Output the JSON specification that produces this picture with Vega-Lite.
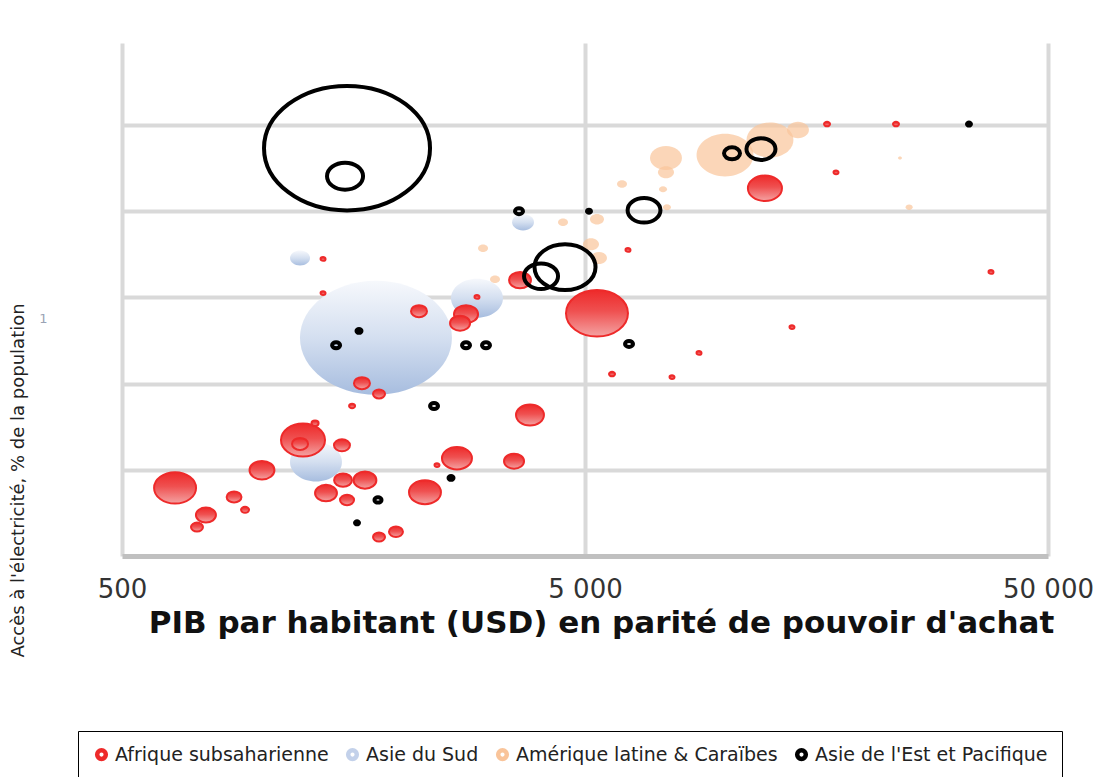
{
  "$schema": "https://vega.github.io/schema/vega-lite/v6.json",
  "autosize": "none",
  "width": 926,
  "height": 513,
  "padding": {"left": 122, "top": 43, "right": 54, "bottom": 221},
  "background": "white",
  "config": {"view": {"stroke": null}},
  "data": {"values": [
    {"region": "Asie du Sud", "pib": 1768, "acces": 50.6, "pop": 1155},
    {"region": "Asie du Sud", "pib": 2922, "acces": 59.8, "pop": 135},
    {"region": "Asie du Sud", "pib": 1312, "acces": 21.8, "pop": 135},
    {"region": "Asie du Sud", "pib": 1212, "acces": 69.1, "pop": 20},
    {"region": "Asie du Sud", "pib": 3674, "acces": 77.4, "pop": 24},

    {"region": "Amérique latine & Caraïbes", "pib": 10032, "acces": 93.0, "pop": 162},
    {"region": "Amérique latine & Caraïbes", "pib": 12544, "acces": 96.5, "pop": 110},
    {"region": "Amérique latine & Caraïbes", "pib": 14419, "acces": 98.8, "pop": 24},
    {"region": "Amérique latine & Caraïbes", "pib": 7480, "acces": 92.3, "pop": 51},
    {"region": "Amérique latine & Caraïbes", "pib": 7480, "acces": 89.0, "pop": 12.8},
    {"region": "Amérique latine & Caraïbes", "pib": 6010, "acces": 86.3, "pop": 5},
    {"region": "Amérique latine & Caraïbes", "pib": 7370, "acces": 85.1, "pop": 3.2},
    {"region": "Amérique latine & Caraïbes", "pib": 7516, "acces": 80.9, "pop": 3.2},
    {"region": "Amérique latine & Caraïbes", "pib": 5307, "acces": 78.1, "pop": 9.8},
    {"region": "Amérique latine & Caraïbes", "pib": 4482, "acces": 77.4, "pop": 5},
    {"region": "Amérique latine & Caraïbes", "pib": 5151, "acces": 72.3, "pop": 12.8},
    {"region": "Amérique latine & Caraïbes", "pib": 5360, "acces": 69.1, "pop": 12.8},
    {"region": "Amérique latine & Caraïbes", "pib": 3011, "acces": 71.4, "pop": 5},
    {"region": "Amérique latine & Caraïbes", "pib": 3196, "acces": 64.2, "pop": 5},
    {"region": "Amérique latine & Caraïbes", "pib": 25063, "acces": 80.9, "pop": 2.5},
    {"region": "Amérique latine & Caraïbes", "pib": 23947, "acces": 92.3, "pop": 0.8},

    {"region": "Afrique subsaharienne", "pib": 5307, "acces": 56.3, "pop": 192},
    {"region": "Afrique subsaharienne", "pib": 651, "acces": 15.8, "pop": 88},
    {"region": "Afrique subsaharienne", "pib": 1230, "acces": 26.9, "pop": 97},
    {"region": "Afrique subsaharienne", "pib": 1212, "acces": 26.0, "pop": 12.8},
    {"region": "Afrique subsaharienne", "pib": 1003, "acces": 19.9, "pop": 31},
    {"region": "Afrique subsaharienne", "pib": 1493, "acces": 25.7, "pop": 12.8},
    {"region": "Afrique subsaharienne", "pib": 1306, "acces": 30.8, "pop": 2.5},
    {"region": "Afrique subsaharienne", "pib": 873, "acces": 13.7, "pop": 11},
    {"region": "Afrique subsaharienne", "pib": 922, "acces": 10.7, "pop": 3.2},
    {"region": "Afrique subsaharienne", "pib": 759, "acces": 9.5, "pop": 20},
    {"region": "Afrique subsaharienne", "pib": 726, "acces": 6.7, "pop": 7.2},
    {"region": "Afrique subsaharienne", "pib": 1379, "acces": 14.6, "pop": 24},
    {"region": "Afrique subsaharienne", "pib": 1531, "acces": 13.0, "pop": 9.8},
    {"region": "Afrique subsaharienne", "pib": 1501, "acces": 17.6, "pop": 16},
    {"region": "Afrique subsaharienne", "pib": 1674, "acces": 17.6, "pop": 26},
    {"region": "Afrique subsaharienne", "pib": 1953, "acces": 5.6, "pop": 9.8},
    {"region": "Afrique subsaharienne", "pib": 1795, "acces": 4.4, "pop": 7.2},
    {"region": "Afrique subsaharienne", "pib": 2256, "acces": 14.8, "pop": 51},
    {"region": "Afrique subsaharienne", "pib": 2645, "acces": 22.7, "pop": 45},
    {"region": "Afrique subsaharienne", "pib": 2395, "acces": 21.1, "pop": 1.25},
    {"region": "Afrique subsaharienne", "pib": 3513, "acces": 22.0, "pop": 20},
    {"region": "Afrique subsaharienne", "pib": 3803, "acces": 32.7, "pop": 39},
    {"region": "Afrique subsaharienne", "pib": 2190, "acces": 56.8, "pop": 12.8},
    {"region": "Afrique subsaharienne", "pib": 2767, "acces": 56.1, "pop": 29},
    {"region": "Afrique subsaharienne", "pib": 2686, "acces": 54.0, "pop": 20},
    {"region": "Afrique subsaharienne", "pib": 2922, "acces": 60.1, "pop": 1.25},
    {"region": "Afrique subsaharienne", "pib": 3619, "acces": 64.0, "pop": 24},
    {"region": "Afrique subsaharienne", "pib": 1359, "acces": 68.9, "pop": 1.25},
    {"region": "Afrique subsaharienne", "pib": 1359, "acces": 61.0, "pop": 1.25},
    {"region": "Afrique subsaharienne", "pib": 6192, "acces": 71.0, "pop": 1.25},
    {"region": "Afrique subsaharienne", "pib": 5719, "acces": 42.2, "pop": 1.8},
    {"region": "Afrique subsaharienne", "pib": 7707, "acces": 41.5, "pop": 1.25},
    {"region": "Afrique subsaharienne", "pib": 8815, "acces": 47.1, "pop": 1.25},
    {"region": "Afrique subsaharienne", "pib": 13996, "acces": 53.1, "pop": 1.25},
    {"region": "Afrique subsaharienne", "pib": 37658, "acces": 65.9, "pop": 1.25},
    {"region": "Afrique subsaharienne", "pib": 17422, "acces": 89.0, "pop": 1.25},
    {"region": "Afrique subsaharienne", "pib": 16662, "acces": 100.2, "pop": 1.8},
    {"region": "Afrique subsaharienne", "pib": 23478, "acces": 100.2, "pop": 1.8},
    {"region": "Afrique subsaharienne", "pib": 12235, "acces": 85.3, "pop": 58},
    {"region": "Afrique subsaharienne", "pib": 1649, "acces": 40.1, "pop": 12.8},
    {"region": "Afrique subsaharienne", "pib": 1795, "acces": 37.6, "pop": 7.2},
    {"region": "Afrique subsaharienne", "pib": 1570, "acces": 34.8, "pop": 1.8},

    {"region": "Asie de l'Est et Pacifique", "pib": 1531, "acces": 94.6, "pop": 1378},
    {"region": "Asie de l'Est et Pacifique", "pib": 1516, "acces": 88.1, "pop": 65},
    {"region": "Asie de l'Est et Pacifique", "pib": 3601, "acces": 80.0, "pop": 3.2},
    {"region": "Asie de l'Est et Pacifique", "pib": 5100, "acces": 80.0, "pop": 0.8},
    {"region": "Asie de l'Est et Pacifique", "pib": 6706, "acces": 80.2, "pop": 54},
    {"region": "Asie de l'Est et Pacifique", "pib": 10387, "acces": 93.4, "pop": 12.8},
    {"region": "Asie de l'Est et Pacifique", "pib": 11996, "acces": 94.4, "pop": 42},
    {"region": "Asie de l'Est et Pacifique", "pib": 33752, "acces": 100.2, "pop": 0.8},
    {"region": "Asie de l'Est et Pacifique", "pib": 4527, "acces": 67.0, "pop": 186},
    {"region": "Asie de l'Est et Pacifique", "pib": 4018, "acces": 64.9, "pop": 58},
    {"region": "Asie de l'Est et Pacifique", "pib": 1450, "acces": 48.9, "pop": 3.2},
    {"region": "Asie de l'Est et Pacifique", "pib": 1625, "acces": 52.2, "pop": 1.25},
    {"region": "Asie de l'Est et Pacifique", "pib": 2767, "acces": 48.9, "pop": 3.2},
    {"region": "Asie de l'Est et Pacifique", "pib": 3056, "acces": 48.9, "pop": 3.2},
    {"region": "Asie de l'Est et Pacifique", "pib": 6224, "acces": 49.2, "pop": 3.2},
    {"region": "Asie de l'Est et Pacifique", "pib": 2360, "acces": 34.8, "pop": 3.2},
    {"region": "Asie de l'Est et Pacifique", "pib": 1786, "acces": 13.0, "pop": 2.5},
    {"region": "Asie de l'Est et Pacifique", "pib": 1609, "acces": 7.7, "pop": 0.8},
    {"region": "Asie de l'Est et Pacifique", "pib": 2568, "acces": 18.1, "pop": 1.25}
  ]},
  "encoding": {
    "x": {
      "field": "pib", "type": "quantitative",
      "scale": {"type": "log", "domain": [500, 50000], "nice": false},
      "axis": {
        "values": [500, 5000, 50000],
        "labelExpr": "datum.value == 500 ? '500' : datum.value == 5000 ? '5 000' : '50 000'",
        "grid": true, "gridColor": "#d9d9d9", "gridWidth": 4,
        "ticks": false,
        "domain": true, "domainColor": "#c0c0c0", "domainWidth": 5,
        "labelFont": "DejaVu Sans", "labelFontSize": 26, "labelColor": "#333333",
        "labelPadding": 20, "labelFlush": false,
        "title": "PIB par habitant (USD) en parité de pouvoir d'achat",
        "titleFont": "DejaVu Sans", "titleFontSize": 31, "titleFontWeight": "bold",
        "titleColor": "#111111",
        "titleX": 479, "titleY": 67, "titleAlign": "center", "titleBaseline": "middle"
      }
    },
    "y": {
      "field": "acces", "type": "quantitative",
      "scale": {"domain": [0, 119], "nice": false, "zero": false},
      "axis": {
        "values": [20, 40, 55, 60, 80, 100],
        "labelExpr": "datum.value == 55 ? '1' : ''",
        "grid": true,
        "gridColor": {"condition": {"test": "datum.value == 55", "value": "transparent"}, "value": "#d9d9d9"},
        "gridWidth": 4,
        "ticks": false, "domain": false,
        "labelFont": "DejaVu Sans", "labelFontSize": 13, "labelColor": "#9aa3b5",
        "labelPadding": 75,
        "title": "Accès à l'électricité, % de la population",
        "titleFont": "DejaVu Sans", "titleFontSize": 18, "titleFontWeight": "normal",
        "titleColor": "#222222",
        "titleAngle": -90, "titleX": -104, "titleY": 437,
        "titleAlign": "center", "titleBaseline": "middle"
      }
    },
    "size": {
      "field": "pop", "type": "quantitative",
      "scale": {"type": "linear", "domain": [0, 1000], "range": [0, 20000], "zero": true},
      "legend": null
    },
    "color": {
      "field": "region", "type": "nominal",
      "scale": {
        "domain": ["Afrique subsaharienne", "Asie du Sud", "Amérique latine & Caraïbes", "Asie de l'Est et Pacifique"],
        "range": ["#ee2a2a", "#c3d1ea", "#f9c49a", "#000000"]
      },
      "legend": {
        "orient": "none", "legendX": -44, "legendY": 688,
        "direction": "horizontal", "columns": 4,
        "title": null,
        "strokeColor": "#000000", "padding": 14,
        "symbolType": "circle", "symbolSize": 75,
        "symbolStrokeWidth": 4.5,
        "labelFont": "DejaVu Sans", "labelFontSize": 19, "labelColor": "#222222",
        "labelLimit": 0,
        "labelOffset": 4, "columnPadding": 10
      }
    }
  },
  "layer": [
    {
      "transform": [{"filter": "false"}],
      "mark": {
        "type": "point",
        "filled": false,
        "strokeWidth": 4.5,
        "opacity": 1,
        "fill": "#ffffff"
      }
    },
    {
      "transform": [{"filter": "datum.region === 'Asie du Sud'"}],
      "mark": {
        "type": "point",
        "shape": "M-1,0C-1,-0.414,-0.552,-0.75,0,-0.75C0.552,-0.75,1,-0.414,1,0C1,0.414,0.552,0.75,0,0.75C-0.552,0.75,-1,0.414,-1,0Z",
        "filled": false,
        "strokeWidth": 0,
        "opacity": 1,
        "fill": {"gradient": "linear", "x1": 0, "y1": 0, "x2": 0, "y2": 1,
          "stops": [{"offset": 0, "color": "#f6f8fc"}, {"offset": 0.5, "color": "#d4dff0"}, {"offset": 1, "color": "#a7bddf"}]}
      }
    },
    {
      "transform": [{"filter": "datum.region === 'Amérique latine & Caraïbes'"}],
      "mark": {
        "type": "point",
        "shape": "M-1,0C-1,-0.414,-0.552,-0.75,0,-0.75C0.552,-0.75,1,-0.414,1,0C1,0.414,0.552,0.75,0,0.75C-0.552,0.75,-1,0.414,-1,0Z",
        "filled": false,
        "fill": "#f9c49a",
        "fillOpacity": 0.7,
        "opacity": 1,
        "strokeWidth": 0
      }
    },
    {
      "transform": [{"filter": "datum.region === 'Afrique subsaharienne'"}],
      "mark": {
        "type": "point",
        "shape": "M-1,0C-1,-0.414,-0.552,-0.75,0,-0.75C0.552,-0.75,1,-0.414,1,0C1,0.414,0.552,0.75,0,0.75C-0.552,0.75,-1,0.414,-1,0Z",
        "filled": false,
        "strokeWidth": 2,
        "opacity": 1,
        "fill": {"gradient": "linear", "x1": 0, "y1": 0, "x2": 0, "y2": 1,
          "stops": [{"offset": 0, "color": "#ee2a2a"}, {"offset": 0.45, "color": "#ef5050"}, {"offset": 1, "color": "#f4a3a3"}]}
      }
    },
    {
      "transform": [{"filter": "datum.region === \"Asie de l'Est et Pacifique\""}],
      "mark": {
        "type": "point",
        "shape": "M-1,0C-1,-0.414,-0.552,-0.75,0,-0.75C0.552,-0.75,1,-0.414,1,0C1,0.414,0.552,0.75,0,0.75C-0.552,0.75,-1,0.414,-1,0Z",
        "filled": false,
        "strokeWidth": 4,
        "opacity": 1,
        "fill": "transparent"
      }
    }
  ]
}
